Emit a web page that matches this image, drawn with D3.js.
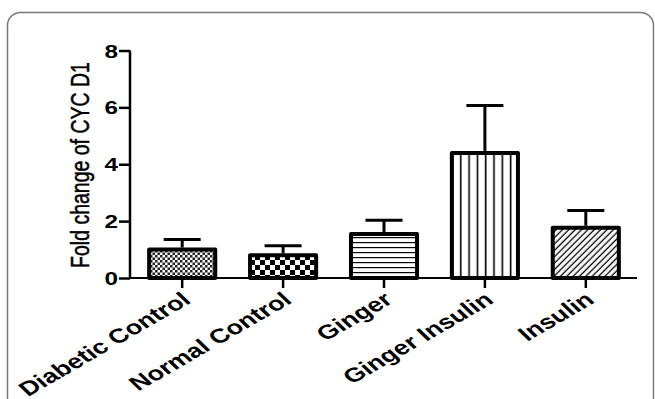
<!DOCTYPE html>
<html>
<head>
<meta charset="utf-8">
<script src="https://cdn.jsdelivr.net/npm/d3@7"></script>
<style>
  html, body { margin: 0; padding: 0; background: #fff; }
  svg { display: block; }
</style>
</head>
<body>
<svg id="chart" width="655" height="399"></svg>
<script>
// Cyclin D1 expression by treatment group (mean fold change with SEM)
const categories = ["Diabetic Control", "Normal Control", "Ginger", "Ginger Insulin", "Insulin"];
const foldChange = [1.0, 0.8, 1.55, 4.4, 1.77];
const sem = [0.35, 0.33, 0.48, 1.67, 0.6];
const yTicks = [0, 2, 4, 6, 8];
const patternIds = ["fineCheck", "coarseCheck", "hLines", "vLines", "diag"];

const svg = d3.select("#chart");
const stretch = 1.35; // horizontal widening applied to the labels
const font = "Liberation Sans, Arial, sans-serif";

// panel frame
svg.append("rect")
  .attr("x", 7.5).attr("y", 12.5)
  .attr("width", 646).attr("height", 430)
  .attr("rx", 13).attr("ry", 13)
  .attr("fill", "#fff")
  .attr("stroke", "#7a7a7a").attr("stroke-width", 1.5);

// fill patterns
const defs = svg.append("defs");
function pat(id, w, h) {
  return defs.append("pattern").attr("id", id)
    .attr("patternUnits", "userSpaceOnUse")
    .attr("width", w).attr("height", h);
}
let p = pat("fineCheck", 5, 5);
p.append("rect").attr("width", 5).attr("height", 5).attr("fill", "#fff");
p.append("rect").attr("width", 2.5).attr("height", 2.5).attr("fill", "#222");
p.append("rect").attr("x", 2.5).attr("y", 2.5).attr("width", 2.5).attr("height", 2.5).attr("fill", "#222");

p = pat("coarseCheck", 10, 10);
p.append("rect").attr("width", 10).attr("height", 10).attr("fill", "#fff");
p.append("rect").attr("width", 5).attr("height", 5).attr("fill", "#000");
p.append("rect").attr("x", 5).attr("y", 5).attr("width", 5).attr("height", 5).attr("fill", "#000");

p = pat("hLines", 10, 5);
p.append("rect").attr("width", 10).attr("height", 5).attr("fill", "#fff");
p.append("rect").attr("y", 2).attr("width", 10).attr("height", 1.2).attr("fill", "#000");

p = pat("vLines", 8.3, 10);
p.append("rect").attr("width", 8.3).attr("height", 10).attr("fill", "#fff");
p.append("rect").attr("x", 3.5).attr("width", 1.6).attr("height", 10).attr("fill", "#000");

p = pat("diag", 4.5, 4.5).attr("patternTransform", "rotate(45)");
p.append("rect").attr("width", 4.5).attr("height", 4.5).attr("fill", "#fff");
p.append("rect").attr("x", 1.5).attr("width", 1.3).attr("height", 4.5).attr("fill", "#000");

// scales
const x = d3.scaleBand().domain(categories)
  .range([132, 636]).paddingInner(0.345).paddingOuter(0.17);
const y = d3.scaleLinear().domain([0, 8]).range([278, 50.5]);

const data = categories.map((c, i) => ({ c, v: foldChange[i], e: sem[i], pat: patternIds[i] }));

// bars
svg.append("g").selectAll("rect").data(data).join("rect")
  .attr("x", d => x(d.c))
  .attr("y", d => y(d.v))
  .attr("width", x.bandwidth())
  .attr("height", d => y(0) - y(d.v))
  .attr("fill", d => `url(#${d.pat})`)
  .attr("stroke", "#000").attr("stroke-width", 4)
  .attr("stroke-linejoin", "round");

// upper error bars
const eb = svg.append("g").attr("stroke", "#000").attr("stroke-width", 3);
eb.selectAll("line.v").data(data).join("line").attr("class", "v")
  .attr("x1", d => x(d.c) + x.bandwidth() / 2)
  .attr("x2", d => x(d.c) + x.bandwidth() / 2)
  .attr("y1", d => y(d.v) - 2)
  .attr("y2", d => y(d.v + d.e));
eb.selectAll("line.h").data(data).join("line").attr("class", "h")
  .attr("x1", d => x(d.c) + x.bandwidth() / 2 - 18.5)
  .attr("x2", d => x(d.c) + x.bandwidth() / 2 + 18.5)
  .attr("y1", d => y(d.v + d.e))
  .attr("y2", d => y(d.v + d.e));

// y axis
const yAxis = svg.append("g").attr("transform", "translate(130,0)")
  .call(d3.axisLeft(y).tickValues(yTicks).tickSize(11).tickPadding(2).tickFormat(d3.format("d")));
yAxis.select(".domain").attr("d", `M0,${y(8)}V${y(0)}`).attr("stroke", "#000").attr("stroke-width", 2.5);
yAxis.selectAll(".tick line").attr("stroke", "#000").attr("stroke-width", 2.5);
yAxis.selectAll(".tick text")
  .attr("font-family", font)
  .attr("font-weight", "bold").attr("font-size", 18).attr("fill", "#000")
  .attr("x", null).attr("dy", null)
  .attr("transform", `translate(-12,6.5) scale(${stretch},1)`);

// x axis
const xAxis = svg.append("g").attr("transform", `translate(0,${y(0)})`)
  .call(d3.axisBottom(x).tickSize(10).tickSizeOuter(0));
xAxis.select(".domain").attr("d", "M130,0H637").attr("stroke", "#000").attr("stroke-width", 2);
xAxis.selectAll(".tick line").attr("stroke", "#000").attr("stroke-width", 2.5);
xAxis.selectAll(".tick text")
  .attr("font-family", font)
  .attr("font-weight", "bold").attr("font-size", 20).attr("fill", "#000")
  .attr("text-anchor", "end")
  .attr("y", null).attr("dy", null)
  .attr("transform", `translate(10,24) scale(${stretch},1) rotate(-38)`);

// y axis title
svg.append("text")
  .attr("transform", `translate(89,165) scale(1.3,1) rotate(-90)`)
  .attr("text-anchor", "middle")
  .attr("font-family", font)
  .attr("font-size", 19.5).attr("fill", "#000")
  .attr("stroke", "#000").attr("stroke-width", 0.4)
  .text("Fold change of CYC D1");
</script>
</body>
</html>
